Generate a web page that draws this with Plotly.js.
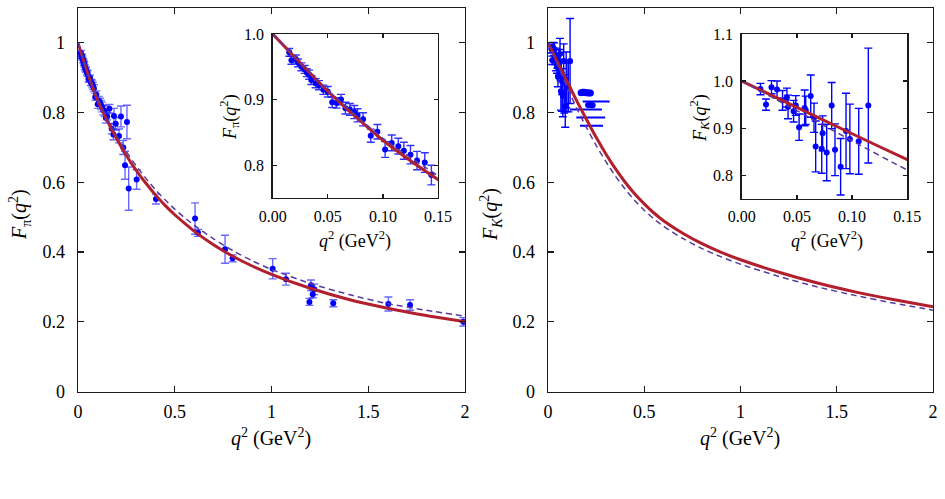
<!DOCTYPE html>
<html>
<head>
<meta charset="utf-8">
<script src="https://cdn.plot.ly/plotly-3.0.1.min.js"></script>
<style>html,body{margin:0;padding:0;background:#fff;}#chart{width:945px;height:499px;}</style>
</head>
<body>
<div id="chart"></div>
<script>
// ---------- model curves ----------
const qGrid    = [0, 0.05, 0.1, 0.15, 0.2, 0.25, 0.3, 0.35, 0.4, 0.45, 0.5, 0.55, 0.6, 0.7, 0.8, 0.9, 1.0, 1.2, 1.4, 1.6, 1.8, 2.0];
const piSolid  = [1.000, 0.913, 0.838, 0.778, 0.725, 0.677, 0.635, 0.598, 0.564, 0.534, 0.507, 0.483, 0.460, 0.421, 0.388, 0.360, 0.336, 0.296, 0.264, 0.239, 0.218, 0.200];
const piDashed = [1.000, 0.914, 0.841, 0.784, 0.733, 0.688, 0.648, 0.612, 0.579, 0.550, 0.523, 0.499, 0.477, 0.438, 0.404, 0.375, 0.350, 0.310, 0.278, 0.252, 0.233, 0.216];
const kSolid   = [1.000, 0.944, 0.888, 0.833, 0.780, 0.729, 0.682, 0.639, 0.601, 0.567, 0.538, 0.512, 0.490, 0.454, 0.424, 0.399, 0.378, 0.342, 0.311, 0.285, 0.263, 0.243];
const kDashed  = [1.000, 0.937, 0.873, 0.811, 0.757, 0.706, 0.660, 0.618, 0.581, 0.548, 0.520, 0.495, 0.474, 0.439, 0.410, 0.386, 0.365, 0.330, 0.300, 0.275, 0.253, 0.233];

// ---------- pion data, low q^2 ----------
const piLowQ2  = [0.015,0.017,0.021,0.023,0.026,0.029,0.031,0.033,0.035,0.039,0.042,0.046,0.050,0.054,0.058,0.062,0.066,0.070,0.074,0.077,0.082,0.089,0.095,0.102,0.108,0.114,0.119,0.125,0.131,0.138,0.144];
const piLowF   = [0.972,0.960,0.962,0.956,0.950,0.946,0.941,0.938,0.930,0.925,0.922,0.915,0.912,0.896,0.895,0.900,0.887,0.885,0.881,0.876,0.870,0.845,0.851,0.824,0.834,0.829,0.822,0.816,0.807,0.804,0.785];
const piLowErr = [0.006,0.006,0.006,0.006,0.006,0.006,0.006,0.007,0.007,0.007,0.007,0.007,0.008,0.008,0.008,0.008,0.009,0.009,0.010,0.010,0.010,0.010,0.011,0.012,0.012,0.012,0.013,0.014,0.014,0.015,0.015];

// ---------- pion data, higher q^2 ----------
const piHighQ2  = [0.151,0.162,0.174,0.183,0.186,0.195,0.212,0.222,0.234,0.243,0.253,0.262,0.303,0.403,0.605,0.620,0.760,0.799,1.006,1.075,1.196,1.204,1.213,1.221,1.319,1.604,1.716,1.991];
const piHighF   = [0.789,0.811,0.754,0.737,0.790,0.768,0.733,0.789,0.700,0.649,0.773,0.582,0.608,0.552,0.496,0.455,0.408,0.382,0.352,0.322,0.257,0.305,0.279,0.293,0.253,0.251,0.248,0.200];
const piHighErr = [0.010,0.012,0.015,0.015,0.022,0.018,0.020,0.030,0.020,0.040,0.048,0.062,0.028,0.014,0.045,0.010,0.040,0.010,0.029,0.017,0.010,0.015,0.010,0.015,0.010,0.020,0.015,0.012];

// ---------- kaon data ----------
const kQ2  = [0.017,0.022,0.027,0.032,0.037,0.041,0.042,0.047,0.049,0.052,0.057,0.058,0.0625,0.0655,0.067,0.0725,0.0733,0.077,0.0815,0.0845,0.0896,0.0945,0.098,0.106,0.1147];
const kF   = [0.983,0.950,0.987,0.982,0.959,0.965,0.945,0.936,0.948,0.902,0.943,0.938,0.968,0.922,0.861,0.856,0.889,0.848,0.948,0.854,0.818,0.894,0.877,0.872,0.948];
const kErr = [0.012,0.012,0.014,0.018,0.021,0.020,0.025,0.023,0.021,0.028,0.038,0.030,0.045,0.031,0.054,0.052,0.037,0.060,0.049,0.055,0.060,0.080,0.074,0.070,0.122];

// kaon points with horizontal (q^2) errors
const kxQ2  = [0.172,0.180,0.188,0.196,0.204,0.212,0.220,0.208,0.216,0.224,0.232,0.250,0.197,0.222,0.226];
const kxF   = [0.857,0.858,0.858,0.857,0.857,0.856,0.856,0.822,0.822,0.821,0.821,0.832,0.809,0.786,0.762];
const kxErr = [0.010,0.010,0.010,0.010,0.010,0.010,0.010,0.010,0.010,0.010,0.010,0.070,0.083,0.075,0.060];

// ---------- tick labels ----------
const mainXTicks = [0, 0.5, 1, 1.5, 2];
const mainXText  = ['0', '0.5', '1', '1.5', '2'];
const mainYTicks = [0, 0.2, 0.4, 0.6, 0.8, 1];
const mainYText  = ['0', '0.2', '0.4', '0.6', '0.8', '1'];
const insetXTicks = [0, 0.05, 0.1, 0.15];
const insetXText  = ['0.00', '0.05', '0.10', '0.15'];
const piInsetYTicks = [0.8, 0.9, 1.0];
const piInsetYText  = ['0.8', '0.9', '1.0'];
const kInsetYTicks = [0.8, 0.9, 1.0, 1.1];
const kInsetYText  = ['0.8', '0.9', '1.0', '1.1'];

const RED = '#b21f2d';
const PURPLE = '#5a3b9b';
const BLUE = '#0000ff';

function dataTrace(x, y, e, xa, ya, barColor) {
  return {x: x, y: y, xaxis: xa, yaxis: ya, type: 'scatter', mode: 'markers',
    marker: {color: BLUE, size: 6, opacity: 1, line: {width: 0}},
    error_y: {type: 'data', array: e, visible: true, color: barColor, thickness: 1.4, width: 4},
    hoverinfo: 'x+y'};
}
function curve(y, xa, ya, kind) {
  const solid = kind === 'solid';
  return {x: qGrid, y: y, xaxis: xa, yaxis: ya, type: 'scatter', mode: 'lines',
    line: solid ? {color: RED, width: 3, shape: 'spline', smoothing: 0.6}
                : {color: PURPLE, width: 1.5, dash: '6px,4px', shape: 'spline', smoothing: 0.6},
    hoverinfo: 'skip'};
}

const traces = [
  // left main
  dataTrace(piLowQ2, piLowF, piLowErr, 'x', 'y', 'rgba(40,40,255,0.6)'),
  dataTrace(piHighQ2, piHighF, piHighErr, 'x', 'y', 'rgba(40,40,255,0.7)'),
  curve(piSolid, 'x', 'y', 'solid'),
  curve(piDashed, 'x', 'y', 'dash'),
  // left inset
  dataTrace(piLowQ2, piLowF, piLowErr, 'x2', 'y2', 'rgba(0,0,255,0.8)'),
  curve(piSolid, 'x2', 'y2', 'solid'),
  curve(piDashed, 'x2', 'y2', 'dash'),
  // right main
  dataTrace(kQ2, kF, kErr, 'x3', 'y3', BLUE),
  {x: kxQ2, y: kxF, xaxis: 'x3', yaxis: 'y3', type: 'scatter', mode: 'markers',
   marker: {color: BLUE, size: [7,7,7,7,7,7,7,6,6,6,6,0,0,0,0], opacity: 1, line: {width: 0}},
   error_x: {type: 'data', array: kxErr, visible: true, color: BLUE, thickness: 2, width: 0},
   hoverinfo: 'x+y'},
  curve(kSolid, 'x3', 'y3', 'solid'),
  curve(kDashed, 'x3', 'y3', 'dash'),
  // right inset
  dataTrace(kQ2, kF, kErr, 'x4', 'y4', BLUE),
  curve(kSolid, 'x4', 'y4', 'solid'),
  curve(kDashed, 'x4', 'y4', 'dash')
];

const FONT = 'Liberation Serif';
function axis(domain, range, tv, tt, anchor, len, size, standoff) {
  return {domain: domain, range: range, anchor: anchor, tickmode: 'array', tickvals: tv, ticktext: tt,
    showline: true, linecolor: '#1a1a1a', linewidth: 1.4, mirror: 'allticks', ticks: 'inside',
    ticklen: len, tickwidth: 1.2, tickcolor: '#1a1a1a', showgrid: false, zeroline: false,
    tickfont: {family: FONT, size: size, color: '#000'}, ticklabelstandoff: standoff, fixedrange: true};
}

const mainY = [1 - 391.5/499, 1 - 8/499];
const layout = {
  width: 945, height: 499, margin: {l: 0, r: 0, t: 0, b: 0},
  paper_bgcolor: '#fff', plot_bgcolor: '#fff', showlegend: false,
  font: {family: FONT, size: 18, color: '#000'},
  xaxis:  axis([78/945, 465/945], [0, 2], mainXTicks, mainXText, 'y', 6, 18, 3),
  yaxis:  axis(mainY, [0, 1.1], mainYTicks, mainYText, 'x', 6, 18, 8),
  xaxis2: axis([272.7/945, 438/945], [0, 0.15], insetXTicks, insetXText, 'y2', 4, 16, 3),
  yaxis2: axis([1 - 198/499, 1 - 34/499], [0.75, 1.0], piInsetYTicks, piInsetYText, 'x2', 4, 16, 4),
  xaxis3: axis([548/945, 933/945], [0, 2], mainXTicks, mainXText, 'y3', 6, 18, 3),
  yaxis3: axis(mainY, [0, 1.1], mainYTicks, mainYText, 'x3', 6, 18, 8),
  xaxis4: axis([741.7/945, 907.3/945], [0, 0.15], insetXTicks, insetXText, 'y4', 4, 16, 3),
  yaxis4: axis([1 - 198.7/499, 1 - 34/499], [0.75, 1.1], kInsetYTicks, kInsetYText, 'x4', 4, 16, 4),
  annotations: []
};

const xTitle = '<i>q</i><sup>2</sup> (GeV<sup>2</sup>)';
const piTitle = '<i>F</i><sub>π</sub>(<i>q</i><sup>2</sup>)';
const kTitle = '<i>F</i><sub><i>K</i></sub>(<i>q</i><sup>2</sup>)';
function ann(text, px, py, angle, size) {
  return {text: text, xref: 'paper', yref: 'paper', x: px/945, y: 1 - py/499,
    xanchor: 'center', yanchor: 'middle', showarrow: false, textangle: angle,
    font: {family: FONT, size: size, color: '#000'}};
}
layout.annotations.push(ann(xTitle, 271, 437, 0, 20));
layout.annotations.push(ann(xTitle, 740, 437, 0, 20));
layout.annotations.push(ann(piTitle, 20, 215, -90, 20));
layout.annotations.push(ann(kTitle, 491, 215, -90, 20));
layout.annotations.push(ann(xTitle, 355, 240, 0, 18));
layout.annotations.push(ann(xTitle, 827, 240, 0, 18));
layout.annotations.push(ann(piTitle, 229, 117, -90, 18));
layout.annotations.push(ann(kTitle, 699, 118, -90, 18));

Plotly.newPlot('chart', traces, layout, {displayModeBar: false, staticPlot: true});
</script>
</body>
</html>
